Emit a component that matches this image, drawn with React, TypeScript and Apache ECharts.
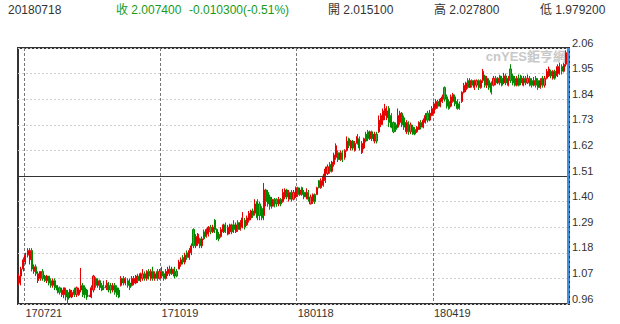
import React, { useEffect, useRef } from 'react';
import * as echarts from 'echarts';

// [open, close, low, high]
const candles: number[][] = [
  [1.05, 1.08, 1.04, 1.09], [1.08, 1.11, 1.04, 1.12], [1.11, 1.15, 1.10, 1.16], [1.14, 1.17, 1.13, 1.18], [1.17, 1.19, 1.16, 1.20],
  [1.15, 1.19, 1.13, 1.20], [1.19, 1.11, 1.10, 1.20], [1.10, 1.12, 1.09, 1.13], [1.12, 1.09, 1.08, 1.13], [1.06, 1.09, 1.05, 1.10],
  [1.07, 1.10, 1.06, 1.10], [1.10, 1.07, 1.06, 1.11], [1.08, 1.06, 1.055, 1.085], [1.06, 1.08, 1.05, 1.085], [1.08, 1.05, 1.04, 1.08],
  [1.06, 1.04, 1.03, 1.07], [1.04, 1.06, 1.03, 1.07], [1.06, 1.03, 1.02, 1.07], [1.04, 1.02, 1.005, 1.04], [1.03, 1.01, 1.00, 1.035],
  [1.00, 1.02, 0.99, 1.03], [1.00, 1.03, 0.985, 1.03], [1.02, 0.99, 0.975, 1.03], [1.01, 0.98, 0.962, 1.02], [0.99, 1.02, 0.985, 1.025],
  [0.99, 1.01, 0.985, 1.02], [1.02, 1.00, 0.99, 1.03], [1.00, 1.03, 0.99, 1.035], [1.00, 1.02, 0.995, 1.03], [1.02, 1.04, 1.01, 1.115],
  [1.04, 1.00, 0.99, 1.05], [1.03, 1.00, 0.985, 1.04], [1.02, 0.99, 0.978, 1.025], [0.995, 0.995, 0.99, 1.00], [0.99, 1.03, 0.985, 1.04],
  [1.02, 1.08, 1.01, 1.085], [1.07, 1.04, 1.03, 1.075], [1.04, 1.06, 1.03, 1.07], [1.06, 1.03, 1.02, 1.065], [1.04, 1.02, 1.015, 1.05],
  [1.03, 1.03, 1.02, 1.06], [1.03, 1.04, 1.02, 1.063], [1.05, 1.02, 1.01, 1.055], [1.04, 1.02, 1.005, 1.05], [1.02, 1.04, 1.01, 1.05],
  [1.04, 1.01, 1.00, 1.05], [1.03, 1.00, 0.99, 1.04], [1.02, 0.99, 0.985, 1.03], [1.04, 1.07, 1.035, 1.08], [1.07, 1.05, 1.04, 1.08],
  [1.05, 1.07, 1.04, 1.075], [1.06, 1.04, 1.03, 1.07], [1.05, 1.03, 1.02, 1.07], [1.04, 1.07, 1.035, 1.08], [1.05, 1.07, 1.04, 1.08],
  [1.05, 1.08, 1.045, 1.085], [1.08, 1.06, 1.05, 1.09], [1.06, 1.09, 1.055, 1.095], [1.07, 1.09, 1.06, 1.11], [1.09, 1.07, 1.06, 1.10],
  [1.07, 1.10, 1.06, 1.105], [1.10, 1.08, 1.065, 1.11], [1.07, 1.10, 1.06, 1.11], [1.10, 1.07, 1.06, 1.12], [1.07, 1.09, 1.06, 1.10],
  [1.10, 1.07, 1.06, 1.11], [1.07, 1.10, 1.065, 1.11], [1.10, 1.08, 1.07, 1.12], [1.09, 1.07, 1.06, 1.10], [1.07, 1.10, 1.065, 1.11],
  [1.09, 1.11, 1.08, 1.12], [1.11, 1.09, 1.08, 1.125], [1.09, 1.11, 1.085, 1.12], [1.11, 1.08, 1.07, 1.12], [1.10, 1.08, 1.075, 1.11],
  [1.11, 1.14, 1.11, 1.15], [1.13, 1.15, 1.12, 1.16], [1.16, 1.14, 1.13, 1.17], [1.14, 1.17, 1.13, 1.18], [1.18, 1.16, 1.15, 1.19],
  [1.16, 1.19, 1.15, 1.20], [1.18, 1.21, 1.17, 1.22], [1.28, 1.21, 1.20, 1.285], [1.21, 1.25, 1.20, 1.26], [1.22, 1.26, 1.21, 1.265],
  [1.24, 1.21, 1.20, 1.245], [1.21, 1.24, 1.20, 1.25], [1.27, 1.24, 1.235, 1.28], [1.25, 1.28, 1.245, 1.285], [1.26, 1.29, 1.25, 1.295],
  [1.29, 1.27, 1.26, 1.30], [1.27, 1.29, 1.265, 1.30], [1.32, 1.28, 1.265, 1.325], [1.28, 1.24, 1.235, 1.285], [1.26, 1.24, 1.23, 1.27],
  [1.25, 1.28, 1.245, 1.29], [1.27, 1.30, 1.265, 1.305], [1.30, 1.27, 1.265, 1.31], [1.26, 1.29, 1.255, 1.30], [1.27, 1.30, 1.26, 1.305],
  [1.30, 1.27, 1.26, 1.305], [1.30, 1.28, 1.265, 1.32], [1.27, 1.30, 1.265, 1.31], [1.31, 1.28, 1.27, 1.32], [1.28, 1.31, 1.275, 1.32],
  [1.29, 1.33, 1.285, 1.355], [1.32, 1.29, 1.28, 1.33], [1.30, 1.33, 1.295, 1.34], [1.32, 1.35, 1.31, 1.36], [1.33, 1.36, 1.32, 1.365],
  [1.36, 1.34, 1.33, 1.37], [1.35, 1.39, 1.34, 1.41], [1.40, 1.33, 1.32, 1.41], [1.39, 1.34, 1.32, 1.40], [1.37, 1.33, 1.32, 1.38],
  [1.34, 1.45, 1.32, 1.48], [1.45, 1.40, 1.38, 1.455], [1.44, 1.39, 1.378, 1.45], [1.42, 1.38, 1.365, 1.43], [1.38, 1.41, 1.37, 1.42],
  [1.41, 1.38, 1.375, 1.415], [1.41, 1.39, 1.378, 1.414], [1.39, 1.41, 1.38, 1.42], [1.41, 1.39, 1.38, 1.415], [1.40, 1.44, 1.395, 1.455],
  [1.42, 1.45, 1.41, 1.457], [1.45, 1.42, 1.41, 1.455], [1.41, 1.44, 1.40, 1.45], [1.44, 1.41, 1.40, 1.45], [1.41, 1.44, 1.405, 1.45],
  [1.42, 1.46, 1.415, 1.465], [1.46, 1.43, 1.42, 1.464], [1.43, 1.45, 1.425, 1.46], [1.46, 1.43, 1.425, 1.464], [1.44, 1.42, 1.41, 1.45],
  [1.42, 1.44, 1.41, 1.457], [1.44, 1.41, 1.40, 1.45], [1.39, 1.42, 1.388, 1.43], [1.40, 1.43, 1.39, 1.435], [1.43, 1.40, 1.39, 1.435],
  [1.43, 1.46, 1.428, 1.464], [1.49, 1.46, 1.457, 1.493], [1.46, 1.49, 1.455, 1.50], [1.47, 1.51, 1.464, 1.52], [1.49, 1.54, 1.48, 1.55],
  [1.52, 1.55, 1.514, 1.56], [1.56, 1.53, 1.52, 1.57], [1.53, 1.57, 1.525, 1.575], [1.56, 1.60, 1.55, 1.61], [1.59, 1.64, 1.58, 1.65],
  [1.61, 1.58, 1.57, 1.62], [1.58, 1.61, 1.575, 1.62], [1.61, 1.58, 1.57, 1.62], [1.59, 1.62, 1.58, 1.625], [1.62, 1.66, 1.615, 1.68],
  [1.67, 1.64, 1.63, 1.675], [1.63, 1.66, 1.62, 1.665], [1.66, 1.63, 1.62, 1.665], [1.62, 1.65, 1.615, 1.66], [1.65, 1.68, 1.645, 1.69],
  [1.67, 1.63, 1.62, 1.68], [1.61, 1.65, 1.605, 1.66], [1.63, 1.67, 1.625, 1.675], [1.69, 1.66, 1.655, 1.70], [1.70, 1.67, 1.66, 1.708],
  [1.67, 1.70, 1.665, 1.705], [1.70, 1.67, 1.66, 1.705], [1.66, 1.69, 1.65, 1.70], [1.69, 1.66, 1.65, 1.70], [1.70, 1.75, 1.695, 1.77],
  [1.73, 1.77, 1.72, 1.78], [1.75, 1.79, 1.73, 1.80], [1.77, 1.80, 1.75, 1.82], [1.76, 1.79, 1.75, 1.81], [1.80, 1.74, 1.72, 1.81],
  [1.77, 1.72, 1.715, 1.78], [1.74, 1.70, 1.694, 1.744], [1.73, 1.71, 1.70, 1.74], [1.72, 1.77, 1.715, 1.80], [1.74, 1.78, 1.73, 1.79],
  [1.78, 1.73, 1.72, 1.785], [1.76, 1.72, 1.708, 1.77], [1.70, 1.74, 1.69, 1.75], [1.74, 1.70, 1.687, 1.745], [1.70, 1.73, 1.69, 1.74],
  [1.72, 1.69, 1.687, 1.73], [1.71, 1.69, 1.685, 1.72], [1.70, 1.72, 1.695, 1.725], [1.71, 1.74, 1.708, 1.745], [1.74, 1.72, 1.71, 1.75],
  [1.72, 1.75, 1.715, 1.758], [1.74, 1.77, 1.735, 1.78], [1.78, 1.75, 1.74, 1.79], [1.75, 1.78, 1.745, 1.794], [1.77, 1.80, 1.767, 1.81],
  [1.78, 1.82, 1.775, 1.83], [1.80, 1.83, 1.795, 1.84], [1.83, 1.81, 1.80, 1.838], [1.81, 1.84, 1.805, 1.845], [1.83, 1.85, 1.824, 1.86],
  [1.89, 1.84, 1.83, 1.895], [1.85, 1.81, 1.80, 1.86], [1.83, 1.80, 1.795, 1.84], [1.81, 1.85, 1.805, 1.86], [1.83, 1.86, 1.825, 1.867],
  [1.85, 1.82, 1.81, 1.86], [1.83, 1.80, 1.795, 1.84], [1.82, 1.80, 1.795, 1.83], [1.83, 1.87, 1.824, 1.874], [1.87, 1.90, 1.865, 1.91],
  [1.88, 1.91, 1.87, 1.915], [1.92, 1.89, 1.885, 1.93], [1.89, 1.92, 1.888, 1.93], [1.92, 1.90, 1.89, 1.925], [1.89, 1.92, 1.88, 1.924],
  [1.90, 1.92, 1.89, 1.925], [1.92, 1.89, 1.88, 1.925], [1.89, 1.92, 1.885, 1.925], [1.92, 1.96, 1.91, 1.97], [1.94, 1.90, 1.89, 1.945],
  [1.90, 1.93, 1.888, 1.94], [1.92, 1.89, 1.88, 1.93], [1.91, 1.87, 1.86, 1.917], [1.90, 1.93, 1.895, 1.94], [1.93, 1.91, 1.90, 1.94],
  [1.91, 1.93, 1.905, 1.935], [1.94, 1.91, 1.90, 1.945], [1.93, 1.90, 1.895, 1.94], [1.91, 1.94, 1.905, 1.953], [1.94, 1.91, 1.90, 1.95],
  [1.90, 1.93, 1.895, 1.94], [1.97, 1.92, 1.91, 1.99], [1.94, 1.91, 1.90, 1.95], [1.93, 1.90, 1.895, 1.94], [1.90, 1.93, 1.895, 1.94],
  [1.93, 1.90, 1.895, 1.946], [1.94, 1.91, 1.90, 1.945], [1.90, 1.93, 1.895, 1.94], [1.93, 1.91, 1.90, 1.94], [1.91, 1.93, 1.905, 1.946],
  [1.93, 1.90, 1.895, 1.94], [1.92, 1.90, 1.89, 1.93], [1.90, 1.92, 1.895, 1.935], [1.93, 1.90, 1.89, 1.94], [1.92, 1.89, 1.88, 1.93],
  [1.89, 1.92, 1.885, 1.93], [1.93, 1.90, 1.89, 1.94], [1.90, 1.93, 1.89, 1.94], [1.93, 1.96, 1.925, 1.97], [1.94, 1.97, 1.935, 1.98],
  [1.96, 1.94, 1.93, 1.967], [1.93, 1.96, 1.924, 1.965], [1.96, 1.93, 1.924, 1.967], [1.94, 1.98, 1.935, 1.99], [1.95, 1.98, 1.945, 1.996],
  [1.98, 1.96, 1.946, 1.99], [1.96, 1.99, 1.955, 1.995], [1.99, 2.04, 1.98, 2.05], [2.0151, 2.0074, 1.9792, 2.0278],
];

const tickIndex = [3, 67, 131, 195];
const tickLabels = ['170721', '171019', '180118', '180419'];
const yMin = 0.96;
const yMax = 2.06;
const yStep = 0.11;
const refLevel = 1.51;
const quoteDate = '20180718';
const prevClose = 2.0177;
const watermark = 'cnYES鉅亨網';

const FONT = "'Liberation Sans', Arial, 'Noto Sans CJK TC', sans-serif";
const UP = '#e60000';
const DOWN = '#008a00';

export default function App() {
  const ref = useRef<HTMLDivElement>(null);
  useEffect(() => {
    if (!ref.current) return;
    const chart = echarts.init(ref.current, undefined, { renderer: 'svg' });
    const categories = candles.map((_, i) => {
      const k = tickIndex.indexOf(i);
      return k >= 0 ? tickLabels[k] : 'd' + i;
    });
    const last = candles[candles.length - 1];
    const [o, c, l, h] = last;
    const chg = c - prevClose;
    const pct = (chg / prevClose) * 100;
    const hdr = (text: string, x: number, fill: string) => ({
      type: 'text',
      x,
      y: 10,
      style: { text, fill, font: `12px ${FONT}`, verticalAlign: 'middle', align: 'left' },
    });
    chart.setOption({
      animation: false,
      backgroundColor: '#fff',
      textStyle: { fontFamily: FONT },
      grid: {
        left: 18,
        top: 48,
        width: 551,
        height: 256,
        show: true,
        borderColor: '#333',
        borderWidth: 2,
        backgroundColor: 'transparent',
      },
      xAxis: {
        type: 'category',
        data: categories,
        boundaryGap: true,
        axisLine: { show: false },
        axisTick: { show: false },
        axisLabel: {
          interval: (i: number) => tickIndex.includes(i),
          align: 'left',
          margin: 3,
          fontSize: 11,
          color: '#333',
          fontFamily: FONT,
        },
        splitLine: {
          show: true,
          interval: (i: number) => tickIndex.includes(i),
          lineStyle: { color: '#777', type: [3, 2], width: 1 },
        },
      },
      yAxis: {
        type: 'value',
        position: 'right',
        min: yMin,
        max: yMax,
        interval: yStep,
        scale: true,
        axisLine: { show: false },
        axisTick: { show: false },
        axisLabel: {
          margin: 3,
          fontSize: 11,
          color: '#333',
          verticalAlign: 'bottom',
          fontFamily: FONT,
          formatter: (v: number) => v.toFixed(2),
        },
        splitLine: { show: true, lineStyle: { color: '#d0d0d0', type: [2, 2], width: 1 } },
      },
      series: [
        {
          type: 'candlestick',
          data: candles,
          barWidth: 1.6,
          itemStyle: {
            color: '#f25a5a',
            color0: '#3aa33a',
            borderColor: UP,
            borderColor0: DOWN,
            borderColorDoji: '#555',
            borderWidth: 1,
          },
          markLine: {
            silent: true,
            symbol: 'none',
            label: { show: false },
            data: [
              { yAxis: refLevel, lineStyle: { color: '#333', type: 'solid', width: 1.2 } },
              { xAxis: categories[categories.length - 1], lineStyle: { color: '#3d8fe0', type: 'solid', width: 2 } },
            ],
          },
        },
      ],
      graphic: [
        hdr(quoteDate, 8, '#333'),
        hdr(`收 ${c.toFixed(6)}`, 116, '#1a9a1a'),
        hdr(`${chg.toFixed(6)}(${pct.toFixed(2)}%)`, 189, '#1a9a1a'),
        hdr(`開 ${o.toFixed(6)}`, 328, '#333'),
        hdr(`高 ${h.toFixed(6)}`, 434, '#333'),
        hdr(`低 ${l.toFixed(6)}`, 540, '#333'),
        {
          type: 'text',
          x: 566,
          y: 50,
          silent: true,
          style: {
            text: watermark,
            fill: '#c8c8c8',
            font: `bold 13px ${FONT}`,
            align: 'right',
            verticalAlign: 'top',
          },
        },
      ],
    });
    return () => chart.dispose();
  }, []);
  return (
    <div
      ref={ref}
      style={{ position: 'fixed', left: 0, top: 0, width: 620, height: 324, background: '#fff' }}
    />
  );
}
